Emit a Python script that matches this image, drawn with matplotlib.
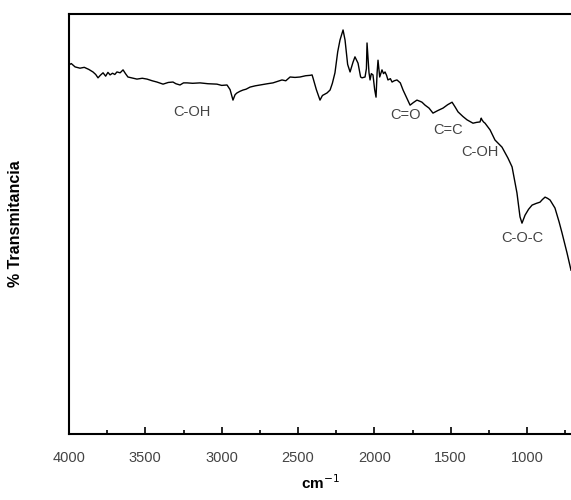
import matplotlib
matplotlib.use("Agg")
import matplotlib.pyplot as plt
from matplotlib.ticker import MultipleLocator, NullLocator

plt.rcParams['font.family'] = ['Liberation Sans', 'DejaVu Sans']

# FTIR spectrum (wavenumber in cm-1, transmittance in arbitrary %)
wavenumber = [4000, 3985, 3960, 3928, 3900, 3870, 3843, 3825, 3810, 3795, 3777, 3760,
              3745, 3731, 3715, 3700, 3686, 3665, 3646, 3630, 3614, 3590, 3555, 3520,
              3489, 3455, 3424, 3400, 3384, 3350, 3319, 3300, 3273, 3250, 3227, 3190,
              3142, 3090, 3031, 3000, 2965, 2945, 2926, 2912, 2900, 2880, 2860, 2840,
              2814, 2780, 2749, 2700, 2664, 2630, 2605, 2580, 2552, 2520, 2487, 2450,
              2420, 2408, 2402, 2380, 2356, 2340, 2310, 2290, 2275, 2258, 2240, 2225,
              2205, 2192, 2175, 2159, 2140, 2127, 2107, 2090, 2081, 2061, 2052, 2048,
              2042, 2035, 2028, 2020, 2009, 1998, 1989, 1982, 1976, 1965, 1950, 1940,
              1930, 1920, 1911, 1895, 1884, 1870, 1852, 1830, 1812, 1790, 1766, 1745,
              1721, 1700, 1688, 1668, 1642, 1616, 1585, 1550, 1520, 1491, 1470, 1452,
              1420, 1393, 1354, 1330, 1308, 1300, 1295, 1285, 1275, 1242, 1210, 1164,
              1125, 1098, 1066, 1046, 1033, 1013, 990, 967, 940, 915, 900, 882, 865,
              849, 817, 790, 771, 738, 712]
transmittance = [87.9, 88.2, 87.4, 87.1, 87.3, 86.8, 86.2, 85.6, 84.8, 85.4, 86.0, 85.2,
                 86.1, 85.5, 85.9, 85.6, 86.2, 86.0, 86.7, 85.8, 85.0, 84.8, 84.5, 84.7,
                 84.5, 84.1, 83.8, 83.5, 83.3, 83.7, 83.8, 83.4, 83.1, 83.6, 83.6, 83.5,
                 83.6, 83.4, 83.3, 83.0, 83.1, 82.0, 79.5, 80.8, 81.2, 81.6, 81.9, 82.1,
                 82.6, 82.9, 83.1, 83.4, 83.6, 84.0, 84.3, 84.1, 85.0, 84.9, 85.0, 85.3,
                 85.4, 85.5, 84.8, 82.0, 79.5, 80.6, 81.2, 81.9, 83.5, 86.0, 91.0, 93.8,
                 96.2, 93.8, 88.0, 86.2, 88.5, 89.8, 88.3, 85.0, 84.8, 85.0, 87.0, 93.1,
                 89.8, 86.0, 84.3, 85.8, 85.5, 82.0, 80.2, 86.0, 89.0, 85.0, 86.7, 85.8,
                 86.2, 85.4, 84.3, 84.6, 83.8, 84.1, 84.3, 83.6, 81.9, 80.2, 78.3, 78.9,
                 79.5, 79.2, 79.0, 78.3, 77.6, 76.4, 77.0, 77.6, 78.4, 79.0, 77.8, 76.7,
                 75.6, 74.8, 74.0, 74.2, 74.3, 75.2, 74.8, 74.3, 74.0, 72.4, 70.0, 68.3,
                 65.7, 63.6, 57.4, 51.7, 50.2, 52.1, 53.5, 54.5, 54.9, 55.2, 55.8, 56.4,
                 56.1, 55.7, 53.8, 50.5, 47.9, 43.1, 39.0]

# band assignments: (label, wavenumber, transmittance)
band_labels = ['C-OH', 'C=O', 'C=C', 'C-OH', 'C-O-C']
band_x = [3194, 1799, 1518, 1308, 1033]
band_y = [76.7, 76.0, 72.4, 67.1, 46.7]

fig = plt.figure(figsize=(5.71, 5.0), dpi=100)
ax = fig.add_axes([69 / 571, 66 / 500, 502 / 571, 420 / 500])

ax.plot(wavenumber, transmittance, color='black', lw=1.0)

for lab, bx, by in zip(band_labels, band_x, band_y):
    ax.text(bx, by, lab, ha='center', va='center', fontsize=10.5, color='#444444')

ax.set_xlim(4000, 712)
ax.set_ylim(0, 100)
ax.xaxis.set_major_locator(MultipleLocator(500))
ax.xaxis.set_minor_locator(MultipleLocator(250))
ax.yaxis.set_major_locator(NullLocator())
ax.tick_params(axis='x', which='major', direction='in', length=5, width=1.2,
               labelsize=10.5, labelcolor='#444444', pad=12)
ax.tick_params(axis='x', which='minor', direction='in', length=3, width=1.2)

for side in ['left', 'bottom', 'top']:
    ax.spines[side].set_linewidth(1.5)
ax.spines['right'].set_visible(False)

ax.set_xlabel('cm$^{-1}$', fontsize=11, fontweight='bold', labelpad=6)
ax.set_ylabel('% Transmitancia', fontsize=11.5, fontweight='bold', labelpad=33)

fig.savefig('out.png', dpi=100)
